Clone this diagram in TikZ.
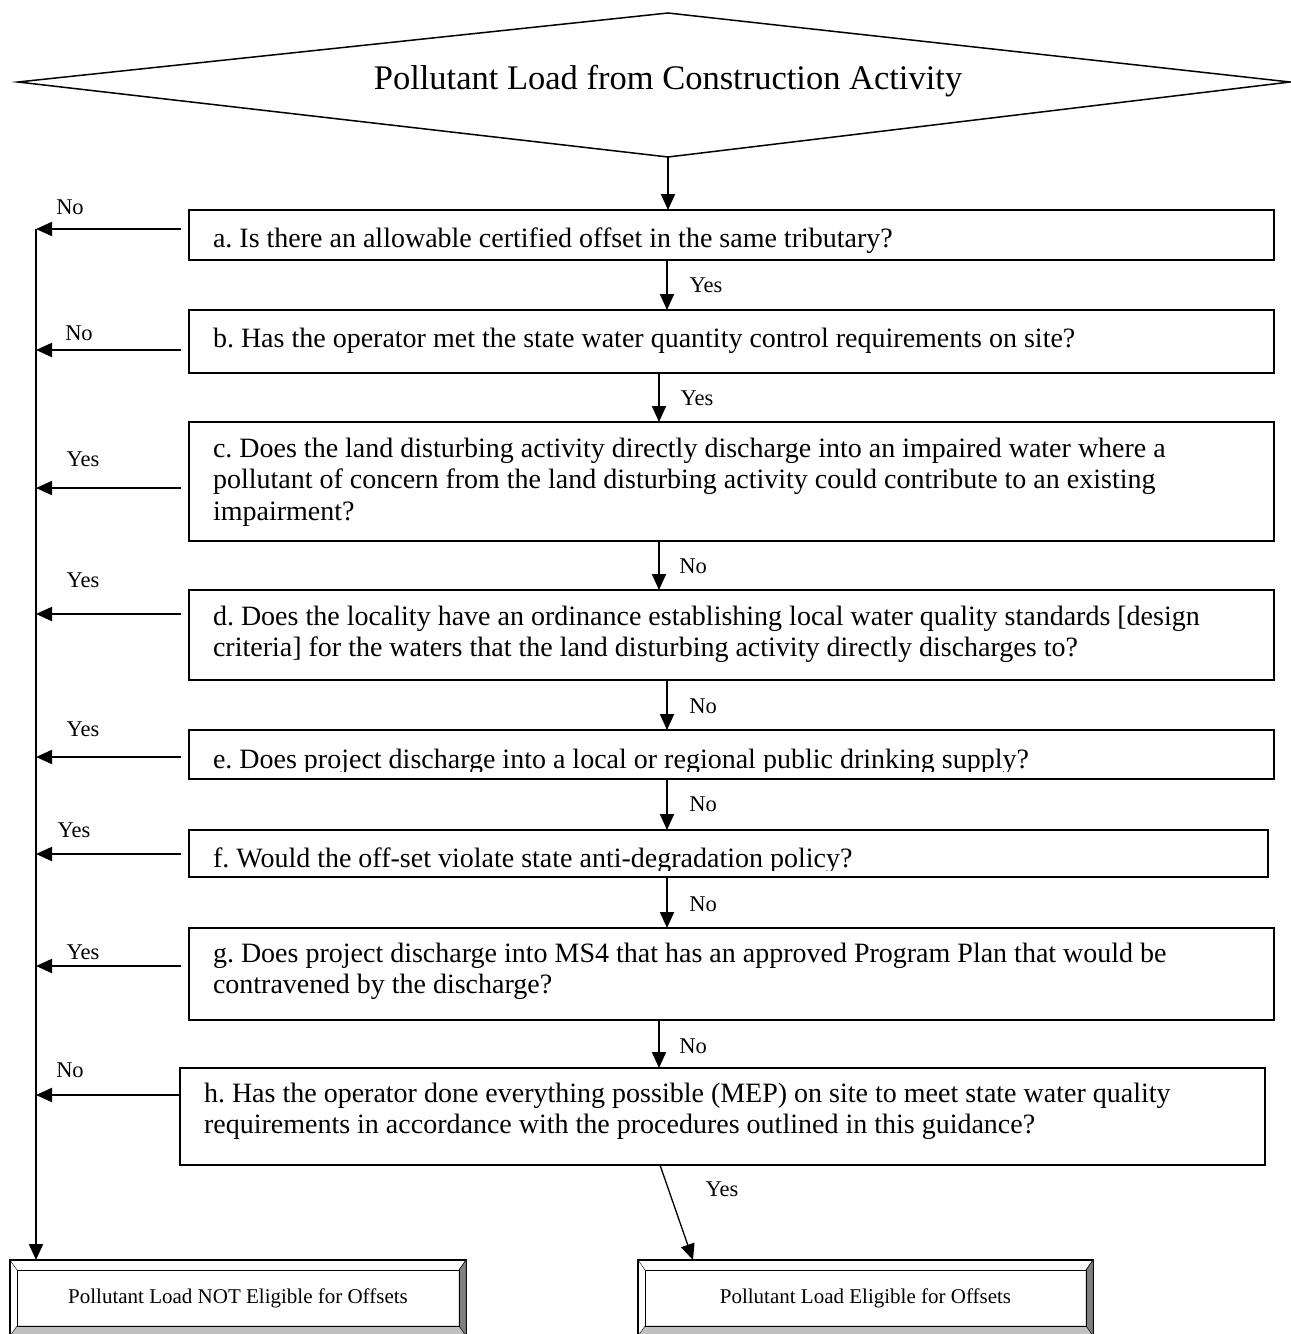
\documentclass[tikz,border=0pt]{standalone}
\usepackage{fontspec}
\setmainfont{Liberation Serif}
\usetikzlibrary{arrows.meta,positioning,calc}

\newcommand{\qfont}{\fontsize{28}{31.5}\selectfont\frenchspacing}
\newcommand{\titlefont}{\fontsize{34.5}{40}\selectfont}
\newcommand{\lblfont}{\fontsize{22.5}{26}\selectfont}
\newcommand{\outfont}{\fontsize{21}{26}\selectfont}

\definecolor{bevdark}{HTML}{808080}
\definecolor{bevlight}{HTML}{C0C0C0}

% raised frame round an end box
\newcommand{\bevel}[1]{%
  \filldraw[fill=bevdark] (#1.north east) -- ([shift={(-7,10)}]#1.north east)
     -- ([shift={(-7,-10)}]#1.south east) -- (#1.south east) -- cycle;
  \filldraw[fill=bevlight] (#1.south west) -- ([shift={(7,-10)}]#1.south west)
     -- ([shift={(-7,-10)}]#1.south east) -- (#1.south east) -- cycle;
  \draw ([shift={(7,10)}]#1.north west) rectangle ([shift={(-7,-10)}]#1.south east);
  \draw (#1.north west) -- ([shift={(7,10)}]#1.north west);
  \draw (#1.north east) -- ([shift={(-7,10)}]#1.north east);
}

\tikzset{
  qbox/.style={draw, line width=2pt, anchor=north west, inner xsep=24pt,
    inner ysep=0pt, outer sep=0pt, font=\qfont,
    execute at begin node={\spaceskip=0.25em\relax}},
  endbox/.style={draw, line width=2pt, outer sep=0pt, inner sep=0pt,
    minimum height=76pt, font=\outfont},
  arr/.style={line width=2pt, -{Triangle[length=16pt,width=14pt]}},
  lbl/.style={font=\lblfont, inner sep=0pt}
}

\begin{document}
\begin{tikzpicture}[x=1pt,y=-1pt]
\useasboundingbox (0,0) rectangle (1291,1334);

% start
\coordinate (dl) at (18,82);
\coordinate (dt) at (668,13);
\coordinate (dr) at (1290,82);
\coordinate (db) at (668,157);
\draw[line width=1.5pt] (dl) -- (dt) -- (dr) -- (db) -- cycle;
\node[font=\titlefont] (title) at (668,81) {Pollutant Load from Construction Activity};

% questions
\node[qbox, text width=1037pt, text height=37pt, text depth=13pt] (a) at (189,210)
  {a. Is there an allowable certified offset in the same tributary?};
\node[qbox, text width=1037pt, text height=37pt, text depth=26pt] (b) at (189,310)
  {b. Has the operator met the state water quantity control requirements on site?};
\node[qbox, text width=1037pt, text height=35pt, text depth=84pt] (c) at (189,422)
  {c. Does the land disturbing activity directly discharge into an impaired water where a\\
   pollutant of concern from the land disturbing activity could contribute to an existing\\
   impairment?};
\node[qbox, text width=1037pt, text height=35pt, text depth=55pt] (d) at (189,590)
  {d. Does the locality have an ordinance establishing local water quality standards [design\\
   criteria] for the waters that the land disturbing activity directly discharges to?};
\node[qbox, text width=1037pt, text height=38pt, text depth=11pt] (e) at (189,730)
  {e. Does project discharge into a local or regional public drinking supply?};
\node[qbox, text width=1031pt, text height=37pt, text depth=10pt] (f) at (189,830)
  {f. Would the off-set violate state anti-degradation policy?};
\node[qbox, text width=1037pt, text height=34pt, text depth=58pt] (g) at (189,928)
  {g. Does project discharge into MS4 that has an approved Program Plan that would be\\
   contravened by the discharge?};
\node[qbox, text width=1037pt, text height=34pt, text depth=63pt] (h) at (180,1068)
  {h. Has the operator done everything possible (MEP) on site to meet state water quality\\
   requirements in accordance with the procedures outlined in this guidance?};

% text cut off by the box margin
\fill[white] ([shift={(2,-1.5)}]e.south west) rectangle ([shift={(-2,-7.5)}]e.south east);
\fill[white] ([shift={(2,-1.5)}]f.south west) rectangle ([shift={(-2,-6)}]f.south east);

% outcomes
\node[endbox, minimum width=456pt] (noelig) at (238,1298)
  {Pollutant Load NOT Eligible for Offsets};
\node[endbox, minimum width=455pt] (elig) at (865.5,1298)
  {Pollutant Load Eligible for Offsets};
\bevel{noelig}
\bevel{elig}

% down the middle
\coordinate (cola) at (667,0);
\coordinate (colb) at (659,0);
\coordinate (tip) at (693,0);
\draw[arr] (db) -- (db |- a.north);
\draw[arr] (cola |- a.south) -- (cola |- b.north);
\draw[arr] (colb |- b.south) -- (colb |- c.north);
\draw[arr] (colb |- c.south) -- (colb |- d.north);
\draw[arr] (cola |- d.south) -- (cola |- e.north);
\draw[arr] (cola |- e.south) -- (cola |- f.north);
\draw[arr] (cola |- f.south) -- (cola |- g.north);
\draw[arr] (colb |- g.south) -- (colb |- h.north);
\draw[line width=1.3pt, -{Triangle[length=16pt,width=14pt]}] ([xshift=1]colb |- h.south) -- (tip |- elig.north);

\node[lbl] (ya) at (706,285) {Yes};
\node[lbl] (yb) at (697,398) {Yes};
\node[lbl] (nc) at (693,566) {No};
\node[lbl] (nd) at (703,706) {No};
\node[lbl] (ne) at (703,804) {No};
\node[lbl] (nf) at (703,904) {No};
\node[lbl] (ng) at (693,1046) {No};
\node[lbl] (yh) at (722,1189) {Yes};

% out to the left
\coordinate (trunk) at (36,0);
\foreach \b/\dx/\dy in {a/8/19, b/8/40, c/8/66, d/8/24, e/8/27, f/8/24, g/8/38, h/0/27}
  \draw[arr] ([shift={(-\dx,\dy)}]\b.north west) coordinate (o\b) -- (trunk |- o\b);
\draw[arr] (trunk |- oa) -- (trunk |- noelig.north);

\node[lbl] (la) at (70,207) {No};
\node[lbl] (lb) at (79,333) {No};
\node[lbl] (lc) at (83,459) {Yes};
\node[lbl] (ld) at (83,580) {Yes};
\node[lbl] (le) at (83,729) {Yes};
\node[lbl] (lf) at (74,830) {Yes};
\node[lbl] (lg) at (83,952) {Yes};
\node[lbl] (lh) at (70,1070) {No};

\end{tikzpicture}
\end{document}
